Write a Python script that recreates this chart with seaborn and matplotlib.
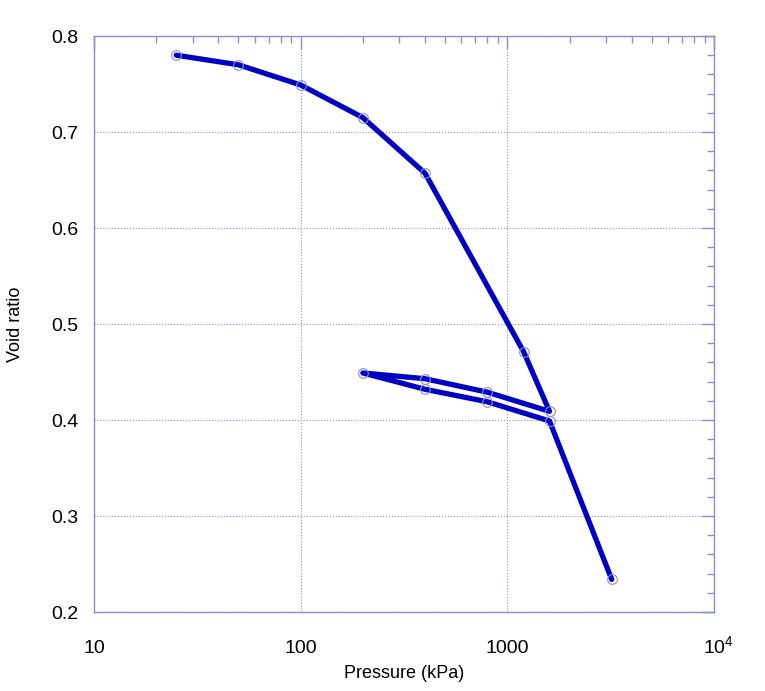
import numpy as np
import pandas as pd
import matplotlib
matplotlib.use("Agg")
import matplotlib.pyplot as plt
import seaborn as sns
from matplotlib.ticker import LogLocator, MultipleLocator, FixedLocator, FixedFormatter, NullFormatter

# load / unload / reload path of the oedometer test
pressure = [25, 50, 100, 200, 400, 1200, 1600, 800, 400, 200, 400, 800, 1600, 3200]
void_ratio = [0.780, 0.770, 0.749, 0.715, 0.657, 0.471, 0.409,
              0.429, 0.443, 0.449, 0.432, 0.419, 0.399, 0.234]

x_ticks = [10, 100, 1000, 10000]
x_tick_labels = ["10", "100", "1000", ""]  # 10^4 drawn separately with a real superscript

sns.set_style("white")
plt.rcParams['font.family'] = ['Liberation Sans', 'DejaVu Sans']
plt.rcParams['mathtext.fontset'] = 'custom'
plt.rcParams['mathtext.rm'] = 'Liberation Sans'
plt.rcParams['text.color'] = 'black'
plt.rcParams['axes.labelcolor'] = 'black'
plt.rcParams['xtick.labelcolor'] = 'black'
plt.rcParams['ytick.labelcolor'] = 'black'

edge = "#8c8cd0"
df = pd.DataFrame({"p": pressure, "e": void_ratio})

fig = plt.figure(figsize=(7.65, 6.91), dpi=100)
ax = fig.add_axes([0.1229, 0.1143, 0.8104, 0.8336])

# keep the order of the test steps, no aggregation
sns.lineplot(data=df, x="p", y="e", sort=False, estimator=None, color="#0000c4",
             linewidth=3.8, marker="o", markersize=7, markerfacecolor="none",
             markeredgecolor=edge, markeredgewidth=0.8, ax=ax)

ax.set_xscale("log")
ax.set_xlim(10, 10000)
ax.set_ylim(0.2, 0.8)

ax.xaxis.set_major_locator(FixedLocator(x_ticks))
ax.xaxis.set_major_formatter(FixedFormatter(x_tick_labels))
ax.xaxis.set_minor_locator(LogLocator(base=10, subs=np.arange(2, 10)))
ax.xaxis.set_minor_formatter(NullFormatter())
ax.yaxis.set_major_locator(MultipleLocator(0.1))
ax.yaxis.set_minor_locator(MultipleLocator(0.02))

ax.grid(True, which="major", color=edge, linestyle=":", linewidth=0.8)
for s in ax.spines.values():
    s.set_color(edge)
    s.set_linewidth(1.0)
    s.set_visible(True)

ax.tick_params(which="both", direction="in", top=True, right=True, color=edge,
               labelsize=14, labelcolor="black")
ax.tick_params(axis="y", pad=11)
ax.tick_params(axis="x", pad=20)
ax.tick_params(which="major", length=9, width=1)
ax.tick_params(which="minor", length=5, width=1)

ax.annotate(r"$\mathregular{10^4}$", xy=(x_ticks[-1], 0), xycoords=ax.get_xaxis_transform(),
            xytext=(3, -29.5), textcoords="offset points", ha="center", va="baseline",
            fontsize=14, color="black")

ax.set_xlabel("Pressure (kPa)", fontsize=13, labelpad=6, color="black")
ax.set_ylabel("Void ratio", fontsize=13, labelpad=20, color="black")

fig.savefig("out.png", dpi=100)
